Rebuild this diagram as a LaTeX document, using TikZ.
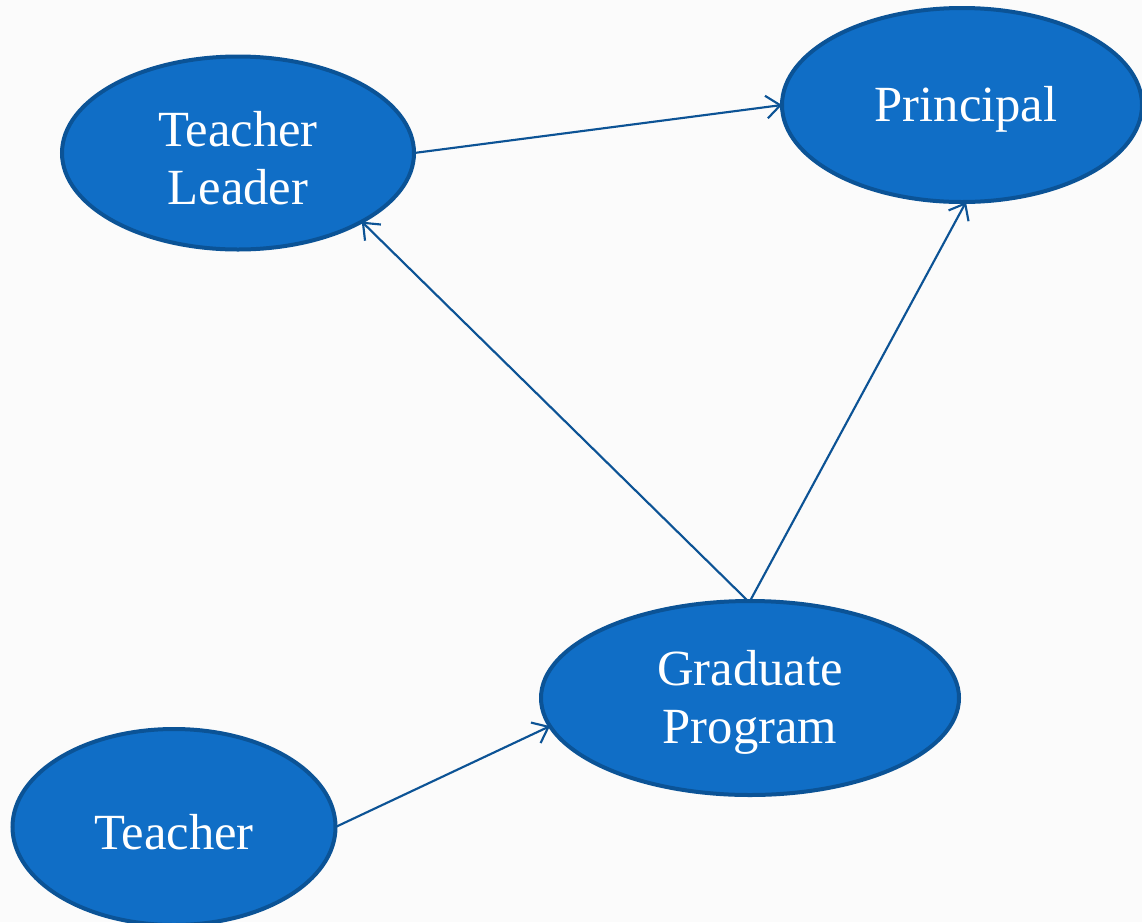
\documentclass[tikz,border=0pt]{standalone}
\usepackage{fontspec}
\setmainfont{Liberation Serif}
\usetikzlibrary{shapes.geometric,arrows.meta}
\definecolor{bubble}{HTML}{106EC6}
\definecolor{rim}{HTML}{0B5396}
\definecolor{wire}{HTML}{0C5395}
\definecolor{paper}{HTML}{FBFBFB}
\newcommand{\lowr}[1]{\raisebox{-3.5pt}[\height][\depth]{#1}}
\tikzset{
  bubble/.style={ellipse, fill=bubble, draw=rim, line width=3pt, inner sep=0pt, outer sep=0pt,
    text=white, align=center, font=\fontsize{38}{43.5}\selectfont},
  link/.style={draw=wire, line width=1.6pt, -{Straight Barb[length=10.5pt,width=17pt,line width=1.6pt]}}
}
\begin{document}
\begin{tikzpicture}[x=0.75pt,y=-0.75pt]
\useasboundingbox[fill=paper] (0,0) rectangle (1142,922);
\node[bubble, minimum width=352*0.75pt, minimum height=193*0.75pt] (tl) at (238,153) {\lowr{Teacher}\\\lowr{Leader}};
\node[bubble, minimum width=360*0.75pt, minimum height=194*0.75pt] (pr) at (962,105) {\lowr{\hspace*{6pt}Principal}};
\node[bubble, minimum width=418*0.75pt, minimum height=194*0.75pt] (gp) at (750,698) {\lowr{Graduate}\\\lowr{Program}};
\node[bubble, minimum width=323*0.75pt, minimum height=196*0.75pt] (te) at (174,827) {\lowr{Teacher}};
\draw[link] (tl.east) -- (pr.west);
\draw[link] ([xshift=-1.5pt]gp.north) -- (tl.-29);
\draw[link] (gp.north) -- ([xshift=3pt]pr.south);
\draw[link] (te.east) -- (gp.188);
\end{tikzpicture}
\end{document}
